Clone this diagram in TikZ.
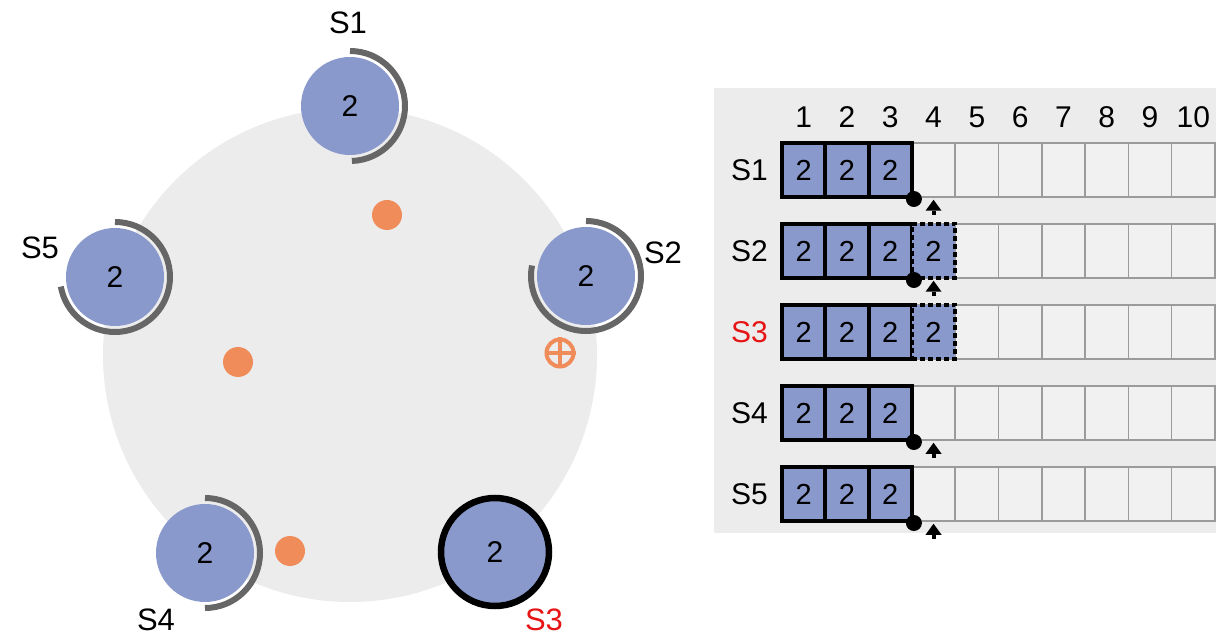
\documentclass[tikz,border=0pt]{standalone}
\usepackage{fontspec}
\setmainfont{Liberation Sans}
\usetikzlibrary{arrows.meta}

\definecolor{clusterbg}{RGB}{236,236,236}
\definecolor{logbg}{RGB}{236,236,236}
\definecolor{termblue}{RGB}{138,153,204}
\definecolor{timergray}{RGB}{102,102,102}
\definecolor{voteorange}{RGB}{240,140,90}
\definecolor{slotline}{RGB}{155,155,155}
\definecolor{slotfill}{RGB}{241,241,241}
\definecolor{candred}{RGB}{230,20,20}

\begin{document}
\begin{tikzpicture}[x=1pt,y=1pt,
  server/.style={circle, fill=termblue, minimum size=98pt, inner sep=0pt,
    font=\fontsize{30}{30}\selectfont},
  candidate/.style={server, draw=black, line width=6.5pt, minimum size=108pt},
  timerarc/.style={draw=timergray, line width=6pt},
  svlabel/.style={inner sep=0pt, font=\fontsize{31}{31}\selectfont},
  vote/.style={circle, fill=voteorange, minimum size=30pt, inner sep=0pt},
  slot/.style={rectangle, draw=slotline, fill=slotfill, line width=1.5pt,
    minimum width=43.3pt, minimum height=54pt, inner sep=0pt},
  entry/.style={rectangle, draw=black, fill=termblue, line width=4pt,
    minimum width=43.3pt, minimum height=54pt, inner sep=0pt,
    font=\fontsize{29}{29}\selectfont},
  pending/.style={entry, dash pattern=on 5pt off 3pt, line width=3.5pt},
  headdot/.style={circle, fill=black, minimum size=16pt, inner sep=0pt},
  nextarrow/.style={line width=4pt, arrows={-Triangle[width=16pt,length=11pt,line width=0pt]}},
  idx/.style={inner sep=0pt, font=\fontsize{30}{30}\selectfont},
  rowlabel/.style={inner sep=0pt, anchor=east, font=\fontsize{30}{30}\selectfont}
]
\useasboundingbox (0,0) rectangle (1216,638);

% ---- cluster view ----
\node[circle, fill=clusterbg, minimum size=494pt, inner sep=0pt] (cluster) at (350,283) {};

\node[server] (s1) at (350,532) {2};
\node[server] (s2) at (586,362) {2};
\node[candidate] (s3) at (495,86) {2};
\node[server] (s4) at (205,85) {2};
\node[server] (s5) at (115,361) {2};

% election timers
\draw[timerarc] (s1.center) ++(90:55) arc[start angle=90, end angle=-88, radius=55];
\draw[timerarc] (s2.center) ++(90:55) arc[start angle=90, end angle=-191, radius=55];
\draw[timerarc] (s4.center) ++(90:55) arc[start angle=90, end angle=-90, radius=55];
\draw[timerarc] (s5.center) ++(90:55) arc[start angle=90, end angle=-170, radius=55];

\node[svlabel] (l1) at (348,615) {S1};
\node[svlabel] (l2) at (663,385) {S2};
\node[svlabel, text=candred] (l3) at (544,18) {S3};
\node[svlabel] (l4) at (156,18) {S4};
\node[svlabel] (l5) at (40,390) {S5};

% messages in flight
\node[vote] (m1) at (387,423) {};
\node[vote] (m2) at (238,276) {};
\node[vote] (m3) at (290,87) {};
\node[circle, draw=voteorange, line width=4pt, minimum size=27pt, inner sep=0pt] (m4) at (560,285) {};
\draw[voteorange, line width=3.5pt] (m4.north) -- (m4.south) (m4.west) -- (m4.east);

% ---- log view ----
\fill[logbg] (714,105) rectangle (1216,550);

\foreach \c in {1,...,10} {
  \node[idx] (h-\c) at ({782+43.3*(\c-0.5)},521) {\c};
}

\foreach \r in {1,...,5} {
  \pgfmathsetmacro\yc{468-81*(\r-1)}
  \foreach \c in {4,...,10} {
    \node[slot] (c-\r-\c) at ({782+43.3*(\c-0.5)},\yc) {};
  }
  \foreach \c in {1,2,3} {
    \node[entry] (c-\r-\c) at ({782+43.3*(\c-0.5)},\yc) {2};
  }
}

\node[rowlabel] (r1) at (768,468) {S1};
\node[rowlabel] (r2) at (768,387) {S2};
\node[rowlabel, text=candred] (r3) at (768,306) {S3};
\node[rowlabel] (r4) at (768,225) {S4};
\node[rowlabel] (r5) at (768,144) {S5};

% uncommitted entries
\node[pending] (p-2) at (c-2-4) {2};
\node[pending] (p-3) at (c-3-4) {2};

% commit markers and next-index arrows
\foreach \r in {1,2,4,5} {
  \node[headdot] (d-\r) at (c-\r-3.south east) {};
  \coordinate (tip-\r) at ([yshift=-2pt]c-\r-4.south);
  \coordinate (tail-\r) at ([yshift=-17pt]c-\r-4.south);
  \draw[nextarrow] (tail-\r) -- (tip-\r);
}
\end{tikzpicture}
\end{document}
